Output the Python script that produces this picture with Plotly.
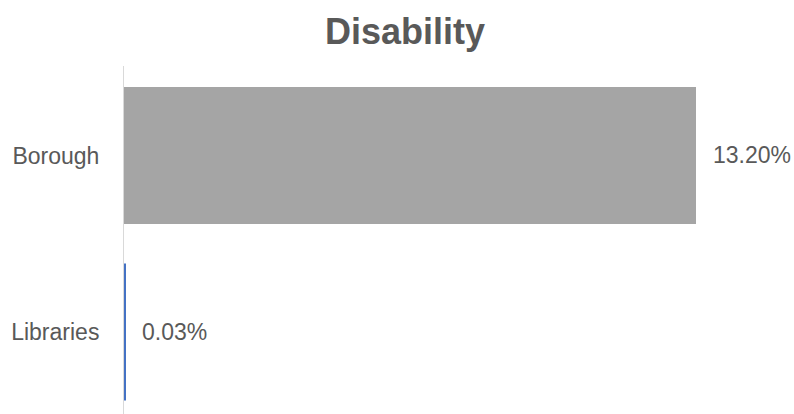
import plotly.graph_objects as go

categories = ["Libraries", "Borough"]
values = [0.03, 13.20]
labels = ["0.03%", "13.20%"]
colors = ["#4472C4", "#A5A5A5"]

fig = go.Figure()
fig.add_trace(go.Bar(
    y=[0, 1], x=values, orientation="h",
    marker=dict(color=colors, line=dict(width=0)),
    width=0.776, hoverinfo="skip",
))
for i, (v, t) in enumerate(zip(values, labels)):
    fig.add_annotation(x=v, y=i, text=t, showarrow=False, xanchor="left",
                       xshift=15, font=dict(size=23, color="#595959"))

fig.update_layout(
    width=794, height=414,
    margin=dict(l=124, r=20, t=66, b=0),
    paper_bgcolor="white", plot_bgcolor="white",
    font=dict(family="Liberation Sans, Arial, sans-serif", color="#595959", size=23),
    title=dict(text="<b>Disability</b>", x=0.51, xanchor="center", y=0.923, yanchor="middle",
               font=dict(size=36, color="#595959")),
    showlegend=False,
    xaxis=dict(range=[0, 15], showgrid=False, zeroline=False, showticklabels=False,
               showline=False, ticks=""),
    yaxis=dict(range=[-0.465, 1.507], tickvals=[0, 1], ticktext=categories,
               showgrid=False, zeroline=False, showline=True, linecolor="#D9D9D9",
               linewidth=1, ticks="", ticklabelstandoff=19,
               tickfont=dict(size=23, color="#595959")),
)
fig.write_html("out.html", config={"displayModeBar": False},
               post_script="document.body.style.margin='0';document.body.style.overflow='hidden';")
